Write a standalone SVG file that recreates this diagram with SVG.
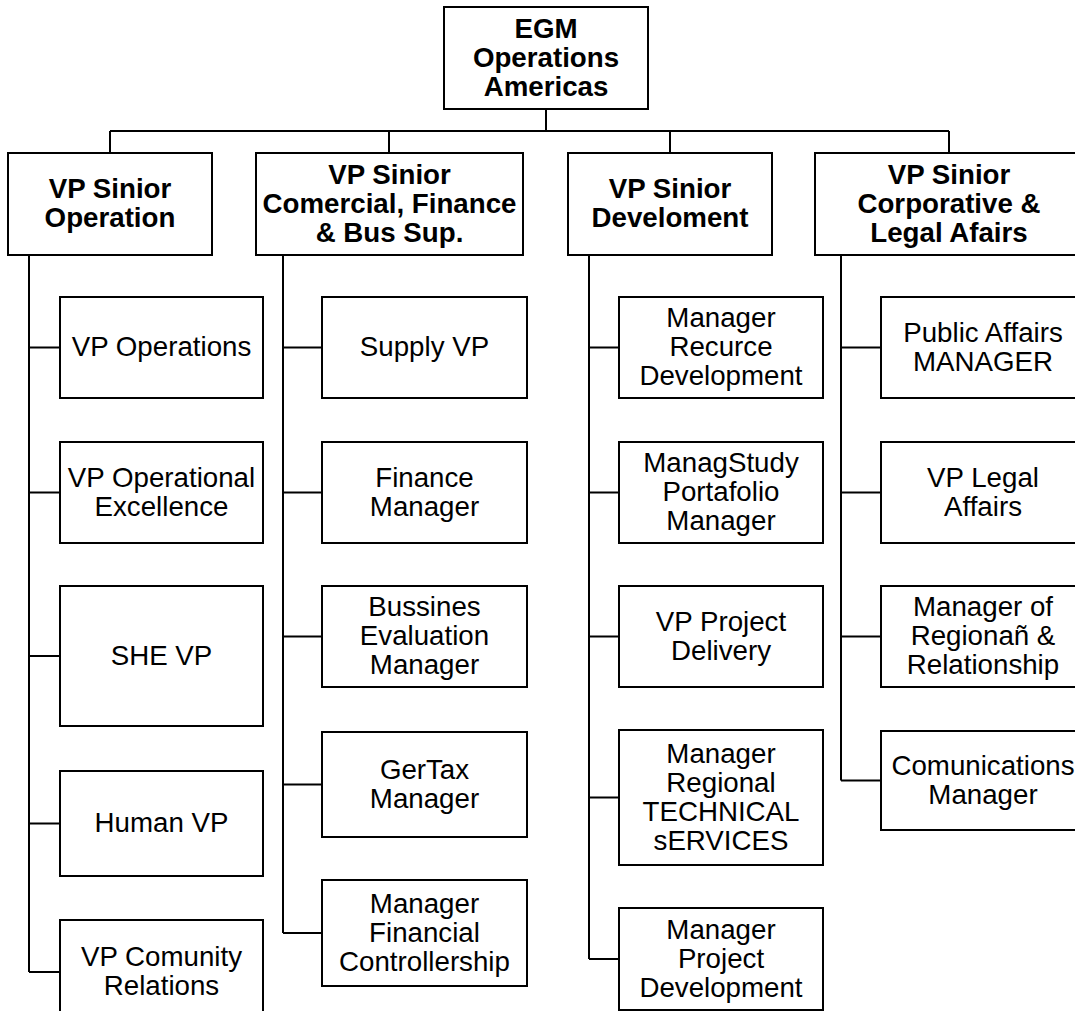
<svg xmlns="http://www.w3.org/2000/svg" width="1075" height="1011" viewBox="0 0 1075 1011">
<style>
.box{fill:#fff;stroke:#000;stroke-width:2}
.ln{fill:none;stroke:#000;stroke-width:2}
text{font-family:"Liberation Sans",Arial,Helvetica,sans-serif;font-size:27.7px;fill:#000;text-anchor:middle}
.b{font-weight:bold}
</style>
<rect width="1075" height="1011" fill="#fff"/>
<g id="connectors">
<path class="ln" d="M546 109V131M110 131H949M110 131V153M389 131V153M670 131V153M949 131V153"/>
<path class="ln" d="M29 255V972M29 347.5H60M29 492.5H60M29 656H60M29 823.5H60M29 972H60"/>
<path class="ln" d="M283 255V933M283 347.5H322M283 492.5H322M283 636.5H322M283 784.5H322M283 933H322"/>
<path class="ln" d="M589 255V959M589 347.5H619M589 492.5H619M589 636.5H619M589 797.5H619M589 959H619"/>
<path class="ln" d="M841 255V780.5M841 347.5H881M841 492.5H881M841 636.5H881M841 780.5H881"/>
</g>
<g id="root"><rect class="box" x="444" y="7" width="204" height="102"/>
<text class="b" x="546" y="37.5">EGM</text><text class="b" x="546" y="66.5">Operations</text><text class="b" x="546" y="95.5">Americas</text></g>
<g id="vp-operation"><rect class="box" x="8" y="153" width="204" height="102"/>
<text class="b" x="110" y="198">VP Sinior</text><text class="b" x="110" y="227">Operation</text></g>
<g id="vp-comercial"><rect class="box" x="256" y="153" width="267" height="102"/>
<text class="b" x="389.5" y="183.5">VP Sinior</text><text class="b" x="389.5" y="212.5">Comercial, Finance</text><text class="b" x="389.5" y="241.5">&amp; Bus Sup.</text></g>
<g id="vp-develoment"><rect class="box" x="568" y="153" width="204" height="102"/>
<text class="b" x="670" y="198">VP Sinior</text><text class="b" x="670" y="227">Develoment</text></g>
<g id="vp-corporative"><rect class="box" x="815" y="153" width="268" height="102"/>
<text class="b" x="949" y="183.5">VP Sinior</text><text class="b" x="949" y="212.5">Corporative &amp;</text><text class="b" x="949" y="241.5">Legal Afairs</text></g>

<g id="vp-operations"><rect class="box" x="60" y="297" width="203" height="101"/><text x="161.5" y="356">VP Operations</text></g>
<g id="vp-operational-excellence"><rect class="box" x="60" y="442" width="203" height="101"/><text x="161.5" y="486.5">VP Operational</text><text x="161.5" y="515.5">Excellence</text></g>
<g id="she-vp"><rect class="box" x="60" y="586" width="203" height="140"/><text x="161.5" y="664.5">SHE VP</text></g>
<g id="human-vp"><rect class="box" x="60" y="771" width="203" height="105"/><text x="161.5" y="832">Human VP</text></g>
<g id="vp-comunity"><rect class="box" x="60" y="920" width="203" height="105"/><text x="161.5" y="966">VP Comunity</text><text x="161.5" y="995">Relations</text></g>

<g id="supply-vp"><rect class="box" x="322" y="297" width="205" height="101"/><text x="424.5" y="356">Supply VP</text></g>
<g id="finance-manager"><rect class="box" x="322" y="442" width="205" height="101"/><text x="424.5" y="486.5">Finance</text><text x="424.5" y="515.5">Manager</text></g>
<g id="bussines-evaluation"><rect class="box" x="322" y="586" width="205" height="101"/><text x="424.5" y="616">Bussines</text><text x="424.5" y="645">Evaluation</text><text x="424.5" y="674">Manager</text></g>
<g id="gertax-manager"><rect class="box" x="322" y="732" width="205" height="105"/><text x="424.5" y="778.5">GerTax</text><text x="424.5" y="807.5">Manager</text></g>
<g id="manager-financial"><rect class="box" x="322" y="880" width="205" height="106"/><text x="424.5" y="912.5">Manager</text><text x="424.5" y="941.5">Financial</text><text x="424.5" y="970.5">Controllership</text></g>

<g id="manager-recurce"><rect class="box" x="619" y="297" width="204" height="101"/><text x="721" y="327">Manager</text><text x="721" y="356">Recurce</text><text x="721" y="385">Development</text></g>
<g id="managstudy"><rect class="box" x="619" y="442" width="204" height="101"/><text x="721" y="472">ManagStudy</text><text x="721" y="501">Portafolio</text><text x="721" y="530">Manager</text></g>
<g id="vp-project-delivery"><rect class="box" x="619" y="586" width="204" height="101"/><text x="721" y="630.5">VP Project</text><text x="721" y="659.5">Delivery</text></g>
<g id="manager-regional"><rect class="box" x="619" y="730" width="204" height="135"/><text x="721" y="762.5">Manager</text><text x="721" y="791.5">Regional</text><text x="721" y="820.5">TECHNICAL</text><text x="721" y="849.5">sERVICES</text></g>
<g id="manager-project-development"><rect class="box" x="619" y="908" width="204" height="102"/><text x="721" y="938.5">Manager</text><text x="721" y="967.5">Project</text><text x="721" y="996.5">Development</text></g>

<g id="public-affairs"><rect class="box" x="881" y="297" width="204" height="101"/><text x="983" y="341.5">Public Affairs</text><text x="983" y="370.5">MANAGER</text></g>
<g id="vp-legal-affairs"><rect class="box" x="881" y="442" width="204" height="101"/><text x="983" y="486.5">VP Legal</text><text x="983" y="515.5">Affairs</text></g>
<g id="manager-regionan"><rect class="box" x="881" y="586" width="204" height="101"/><text x="983" y="616">Manager of</text><text x="983" y="645">Regionañ &amp;</text><text x="983" y="674">Relationship</text></g>
<g id="comunications-manager"><rect class="box" x="881" y="731" width="204" height="99"/><text x="983" y="774.5">Comunications</text><text x="983" y="803.5">Manager</text></g>
</svg>
